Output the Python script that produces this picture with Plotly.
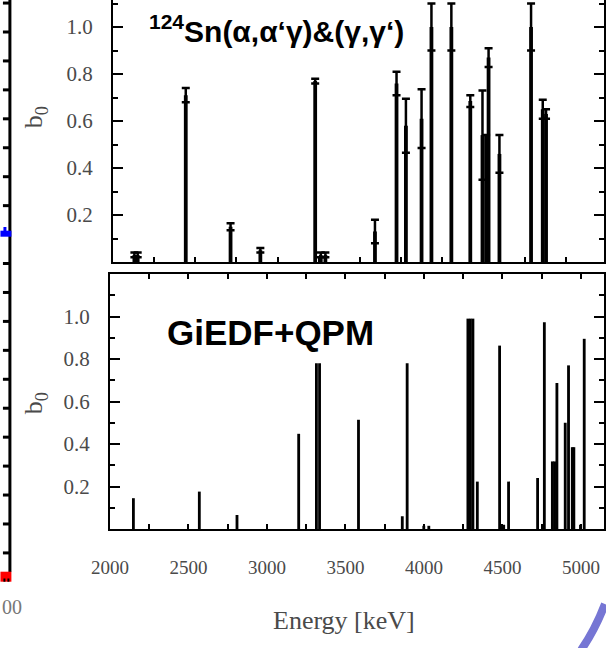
import plotly.graph_objects as go

# ---------------- data ----------------
# experiment: 124Sn(a,a'g)&(g,g')  (top panel)
exp_energy = [2130, 2150, 2442, 2714, 2895, 3228, 3262, 3290, 3591, 3722, 3779,
              3874, 3934, 4055, 4170, 4244, 4266, 4281, 4347, 4539, 4610, 4630]
exp_b0 = [0.03, 0.03, 0.71, 0.15, 0.05, 0.77, 0.03, 0.03, 0.13, 0.76, 0.58,
          0.61, 1.00, 1.00, 0.685, 0.54, 0.54, 0.87, 0.46, 1.00, 0.65, 0.63]
exp_err = [0.01, 0.01, 0.03, 0.015, 0.01, 0.01, 0.01, 0.01, 0.05, 0.05, 0.115,
           0.125, 0.10, 0.10, 0.025, 0.19, 0.0, 0.04, 0.08, 0.10, 0.04, 0.02]

# theory: GiEDF+QPM (bottom panel)
theo_energy = [2149, 2569, 2809, 3202, 3315, 3335, 3583, 3862, 3893, 3999, 4031,
               4280, 4296, 4312, 4340, 4482, 4508, 4539, 4724, 4767, 4818, 4832,
               4847, 4900, 4921, 4945, 4955, 4997, 5021]
theo_b0 = [0.145, 0.176, 0.066, 0.448, 0.78, 0.78, 0.514, 0.06, 0.78, 0.015, 0.015,
           0.99, 0.99, 0.99, 0.223, 0.863, 0.02, 0.223, 0.24, 0.973, 0.318, 0.318,
           0.687, 0.50, 0.77, 0.385, 0.385, 0.02, 0.895]

x_tick_vals = [2000, 2500, 3000, 3500, 4000, 4500, 5000]
x_tick_text = ["2000", "2500", "3000", "3500", "4000", "4500", "5000"]
x_minor_vals = [2250, 2750, 3250, 3750, 4250, 4750]
y_tick_vals = [0.2, 0.4, 0.6, 0.8, 1.0]
y_tick_text = ["0.2", "0.4", "0.6", "0.8", "1.0"]
y_minor_vals = [0.1, 0.3, 0.5, 0.7, 0.9, 1.1]

# ---------------- layout geometry ----------------
W, H = 606, 648
ML, MR, MT, MB = 110, 0, 0, 119
PW, PH = W - ML - MR, H - MT - MB


def X(px):
    return (px - ML) / PW


def Y(py):
    return (H - MB - py) / PH


SERIF = "Liberation Serif"
GRAY = "#4a4a4a"

fig = go.Figure()
fig.add_trace(go.Bar(
    x=exp_energy, y=exp_b0, width=23, marker=dict(color="black", line=dict(width=0)),
    error_y=dict(type="data", array=exp_err, color="black", thickness=2.5, width=4),
    xaxis="x2", yaxis="y2"))
fig.add_trace(go.Bar(
    x=theo_energy, y=theo_b0, width=18, marker=dict(color="black", line=dict(width=0)),
    xaxis="x", yaxis="y"))

common_y = dict(
    tickmode="array", tickvals=y_tick_vals, ticktext=y_tick_text,
    ticks="inside", ticklen=10, tickwidth=2, tickcolor="black",
    minor=dict(tickmode="array", tickvals=y_minor_vals, ticks="inside", ticklen=5,
               tickwidth=2, tickcolor="black"),
    showline=True, linewidth=2, linecolor="black", mirror="ticks",
    showgrid=False, zeroline=False,
    tickfont=dict(family=SERIF, size=21, color=GRAY), ticklabelstandoff=14,
)

x_minor = dict(tickmode="array", tickvals=x_minor_vals, ticks="inside", ticklen=5,
               tickwidth=2, tickcolor="black")

fig.update_layout(
    width=W, height=H, margin=dict(l=ML, r=MR, t=MT, b=MB, pad=0),
    paper_bgcolor="white", plot_bgcolor="white", showlegend=False, barmode="overlay",
    xaxis=dict(domain=[0, 1], anchor="y", range=[2000, 5147],
               tickmode="array", tickvals=x_tick_vals, ticktext=x_tick_text,
               ticks="inside", ticklen=5, tickwidth=2, tickcolor="black", minor=x_minor,
               showline=True, linewidth=2, linecolor="black", mirror="ticks",
               showgrid=False, zeroline=False,
               tickfont=dict(family=SERIF, size=19, color=GRAY), ticklabelstandoff=20),
    yaxis=dict(domain=[0, Y(274)], anchor="x", range=[0, 1.2], **common_y),
    xaxis2=dict(domain=[X(113), 1], anchor="y2", range=[2000, 4982],
                tickmode="array", tickvals=x_tick_vals,
                ticks="inside", ticklen=5, tickwidth=2, tickcolor="black", minor=x_minor,
                showticklabels=False,
                showline=True, linewidth=2, linecolor="black", mirror=False,
                showgrid=False, zeroline=False),
    yaxis2=dict(domain=[Y(262), 1], anchor="x2", range=[0, 1.115], **common_y),
)

ann = []
ann.append(dict(text="<b><sup>124</sup>Sn(α,α‘γ)&amp;(γ,γ‘)</b>", x=X(147), y=Y(29),
                xref="paper", yref="paper", xanchor="left", yanchor="middle",
                showarrow=False, font=dict(family="Liberation Sans", size=30, color="black")))
ann.append(dict(text="<b>GiEDF+QPM</b>", x=X(165), y=Y(332),
                xref="paper", yref="paper", xanchor="left", yanchor="middle",
                showarrow=False, font=dict(family="Liberation Sans", size=35, color="black")))
for yy in (117, 403):
    ann.append(dict(text="b<sub>0</sub>", x=X(35), y=Y(yy), xref="paper", yref="paper",
                    xanchor="center", yanchor="middle", textangle=-90, showarrow=False,
                    font=dict(family=SERIF, size=26, color=GRAY)))
ann.append(dict(text="Energy [keV]", x=X(345), y=Y(620), xref="paper", yref="paper",
                xanchor="center", yanchor="middle", showarrow=False,
                font=dict(family=SERIF, size=26, color=GRAY)))
ann.append(dict(text="00", x=X(0), y=Y(607), xref="paper", yref="paper",
                xanchor="left", yanchor="middle", showarrow=False,
                font=dict(family=SERIF, size=20, color="#777777")))
fig.update_layout(annotations=ann)

# ---------------- slide decorations (neighbouring chart edge, arc) ----------------
shapes = []
shapes.append(dict(type="line", xref="paper", yref="paper", x0=X(9.5), x1=X(9.5),
                   y0=Y(0), y1=Y(572), line=dict(color="black", width=3)))
for k in range(-1, 19):
    ty = 32 + 28.94 * k
    if k == 7:
        continue
    shapes.append(dict(type="line", xref="paper", yref="paper", x0=X(2.5), x1=X(9.5),
                       y0=Y(ty), y1=Y(ty), line=dict(color="black", width=3)))
shapes.append(dict(type="rect", xref="paper", yref="paper", x0=X(0), x1=X(11),
                   y0=Y(236.7), y1=Y(230.7), fillcolor="#0000ff", line=dict(width=0)))
shapes.append(dict(type="rect", xref="paper", yref="paper", x0=X(3), x1=X(6),
                   y0=Y(231), y1=Y(227), fillcolor="#0000ff", line=dict(width=0)))
shapes.append(dict(type="rect", xref="paper", yref="paper", x0=X(0), x1=X(11),
                   y0=Y(581.7), y1=Y(571.7), fillcolor="#ff0000", line=dict(width=0)))
for bx in (3, 7):
    shapes.append(dict(type="rect", xref="paper", yref="paper", x0=X(bx), x1=X(bx + 2),
                       y0=Y(581.7), y1=Y(578.5), fillcolor="black", line=dict(width=0)))
path = "M {:.5f},{:.5f} Q {:.5f},{:.5f} {:.5f},{:.5f}".format(
    X(583), Y(650), X(597), Y(630), X(607), Y(604))
shapes.append(dict(type="path", xref="paper", yref="paper", path=path,
                   line=dict(color="#7676d4", width=8)))
fig.update_layout(shapes=shapes)

fig.write_html("out.html")
